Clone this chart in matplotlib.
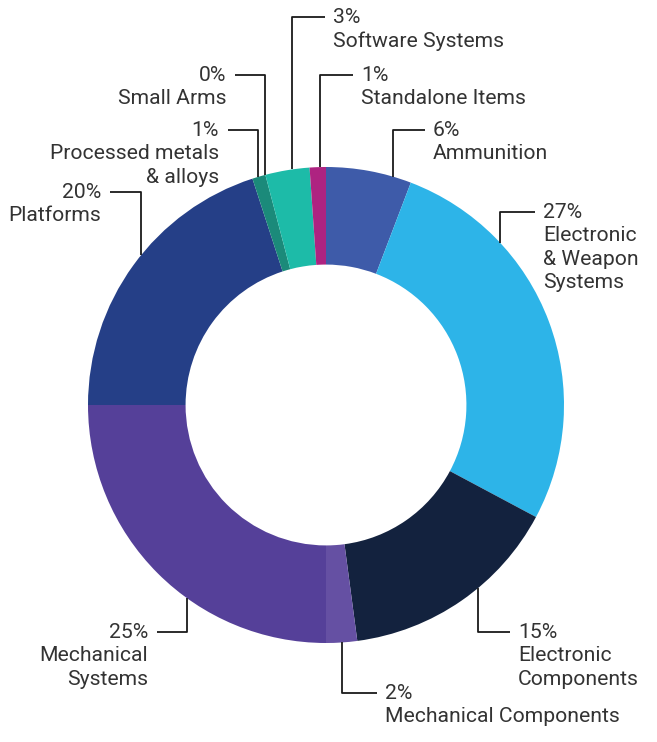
import matplotlib
matplotlib.use("Agg")
import matplotlib.pyplot as plt
import numpy as np

categories = ["Ammunition", "Electronic\n& Weapon\nSystems", "Electronic\nComponents",
              "Mechanical Components", "Mechanical\nSystems", "Platforms",
              "Processed metals\n& alloys", "Small Arms", "Software Systems", "Standalone Items"]
values = [5.8, 27.0, 15.1, 2.1, 25.0, 20.0, 0.9, 0.0, 3.0, 1.1]
pct_labels = ["6%", "27%", "15%", "2%", "25%", "20%", "1%", "0%", "3%", "1%"]
colors = ["#3E5BA9", "#2DB4E8", "#13223E", "#6550A3", "#554099", "#253F87",
          "#1B8A7A", "#17A589", "#1DBBA8", "#AE2381"]

# layout (pixels, top-left origin): vertical leader x, elbow y, text x, side
layout = [
    (393, 130, 433, "right"),
    (500, 212, 543, "right"),
    (478, 632, 518, "right"),
    (342, 693, 385, "right"),
    (187, 632, 148, "left"),
    (141, 192, 101, "left"),
    (258, 130, 219, "left"),
    (265, 75, 226, "left"),
    (292, 17, 333, "right"),
    (320, 75, 361, "right"),
]

W, H = 657, 742
fig = plt.figure(figsize=(W / 100, H / 100), dpi=100)
ax = fig.add_axes([0, 0, 1, 1])
cx, cy, R = 326, H - 405, 238
ring = 0.41

ax.pie(values, colors=colors, startangle=90, counterclock=False,
       center=(cx, cy), radius=R, wedgeprops=dict(width=R * ring, linewidth=0),
       normalize=True)
ax.set_xlim(0, W)
ax.set_ylim(0, H)
ax.set_aspect("equal")
ax.axis("off")

font = dict(family=["Roboto", "DejaVu Sans"], fontweight="normal", fontsize=15.2, color="#333333")
for cat, pct, (lx, ly, tx, side) in zip(categories, pct_labels, layout):
    yy = H - ly
    dx = lx - cx
    dy = np.sqrt(max(R ** 2 - dx ** 2, 0))
    edge = cy + dy if yy > cy else cy - dy
    hx = tx - 8 if side == "right" else tx + 9
    ax.plot([hx, lx, lx], [yy, yy, edge], color="#1a1a1a", lw=1.3, solid_capstyle="butt")
    ha = "left" if side == "right" else "right"
    ax.text(tx, yy + 9, pct + "\n" + cat, ha=ha, va="top", linespacing=1.29,
            multialignment=ha, **font)

fig.savefig("out.png", dpi=100)
